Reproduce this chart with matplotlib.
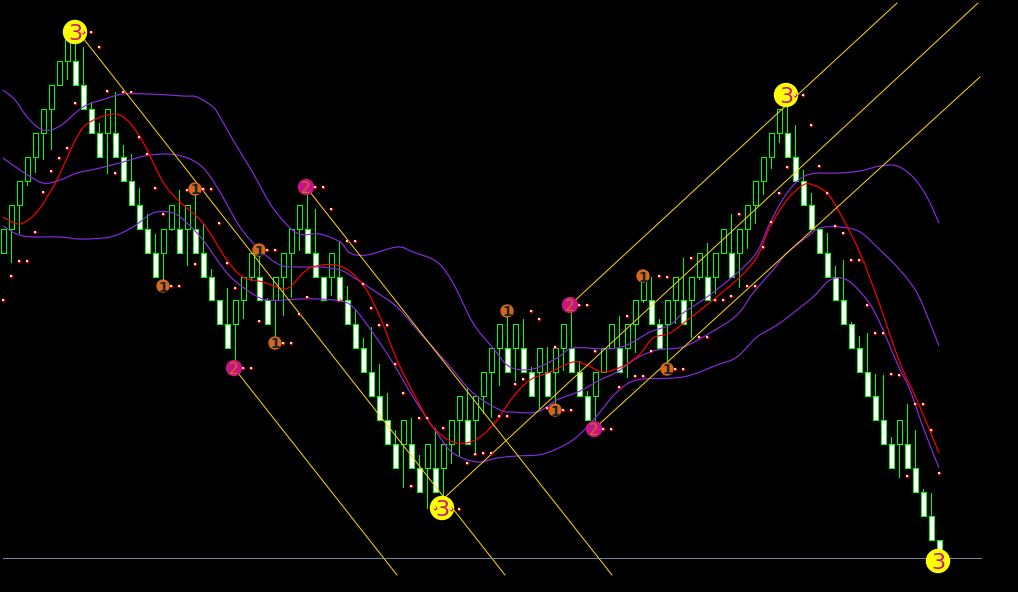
import numpy as np
import matplotlib
matplotlib.use("Agg")
import matplotlib.pyplot as plt
from matplotlib.patches import Rectangle, PathPatch
from matplotlib.path import Path

n = float('nan')
# brick number of each body top, counted down from the highest brick
body_level = [8,7,6,5,4,3,2,1,0,1,2,3,4,3,4,5,6,7,8,9,8,7,8,7,8,9,10,11,12,11,10,9,10,11,10,9,8,7,8,9,10,9,10,
              11,12,13,14,15,16,17,16,17,18,17,18,17,16,15,16,15,14,13,12,13,12,13,14,13,14,13,12,13,14,15,14,13,12,13,12,11,10,11,12,
              11,10,11,10,9,10,9,8,9,8,7,6,5,4,3,4,5,6,7,8,9,10,11,12,13,14,15,16,17,16,17,18,19,20,21]
# 1 = rising (hollow), 0 = falling (white)
body_up = [1,1,1,1,1,1,1,1,1,0,0,0,0,1,0,0,0,0,0,0,1,1,0,1,0,0,0,0,0,1,1,1,0,0,1,1,1,1,0,0,0,1,0,
           0,0,0,0,0,0,0,1,0,0,1,0,1,1,1,0,1,1,1,1,0,1,0,0,1,0,1,1,0,0,0,1,1,1,0,1,1,1,0,0,
           1,1,0,1,1,0,1,1,0,1,1,1,1,1,1,0,0,0,0,0,0,0,0,0,0,0,0,0,0,1,0,0,0,0,0]
wick_end = [n,262,233,185,172,159,149,n,79,40,47,102,123,173,92,145,154,188,214,234,287,230,190,265,187,224,269,n,288,362,318,280,250,298,340,315,297,250,187,209,n,295,241,
            286,309,338,327,364,393,430,487,418,455,508,428,497,463,455,387,453,413,417,385,317,380,319,367,408,347,407,370,313,361,391,422,n,n,316,377,352,302,277,319,
            363,323,258,337,279,243,293,n,214,287,248,223,194,168,142,107,125,170,193,n,233,266,260,322,336,333,374,375,437,477,404,430,489,493,n]

upper_x = [3,15,28,43,60,83,105,123,150,183,197,213,220,233,253,273,297,320,340,350,367,397,413,437,453,473,493,510,533,557,573,607,627,650,670,683,707,737,757,770,787,807,840,860,880,897,913,927,939]
upper_y = [90,100,118,130,126,107,99,94,94,96,97,107,117,140,173,208,233,234,242,253,255,247,252,262,283,323,348,367,369,358,348,349,345,332,325,313,297,273,252,223,193,175,173,171,166,166,177,197,223]
mid_x = [3,23,43,60,77,100,123,150,177,200,217,240,260,280,300,320,340,353,373,397,420,447,473,500,513,537,557,580,600,617,637,657,683,710,737,753,773,787,807,820,840,860,880,900,917,930,939]
mid_y = [158,172,183,180,173,168,162,155,155,165,187,227,250,265,267,267,270,277,290,307,333,363,393,410,412,412,400,391,380,372,358,350,347,333,315,293,270,253,237,228,227,232,250,270,293,323,346]
low_x = [3,23,60,80,110,133,153,173,187,203,227,247,267,300,320,340,353,373,393,413,437,453,477,497,517,543,570,587,600,617,637,683,717,737,757,780,813,830,847,867,880,897,910,923,939]
low_y = [226,236,237,239,237,227,213,213,223,240,273,290,300,299,299,301,307,333,363,397,433,453,462,458,456,454,442,427,412,392,380,377,365,357,337,323,297,280,280,300,323,363,390,427,468]
red_x = [3,20,37,50,57,77,90,113,127,143,163,180,203,227,243,263,280,290,310,340,363,380,397,417,433,453,473,493,513,530,550,573,587,603,623,640,653,670,690,713,740,757,770,787,803,813,827,840,860,878,900,917,939]
red_y = [217,224,212,192,180,137,122,114,120,142,182,202,223,260,277,282,288,287,268,266,285,317,360,400,427,442,441,425,397,380,372,362,365,372,366,354,338,333,318,300,277,257,227,200,185,185,193,213,253,300,363,400,453]

dot_x = [3,11,19,27,35,43,51,59,67,75,83,91,99,107,115,123,131,139,147,155,163,171,179,187,195,203,211,219,227,235,243,251,259,267,275,283,291,299,307,315,323,331,339,347,355,363,371,379,387,395,403,411,419,427,435,443,451,459,467,475,483,491,499,507,515,523,531,539,547,555,563,571,579,587,595,603,611,619,627,635,643,651,659,667,675,683,691,699,707,715,723,731,739,747,755,763,771,779,787,795,803,811,819,827,835,843,851,859,867,875,883,891,899,907,915,923,931,939]
dot_y = [300,276,261,261,232,192,171,158,148,103,32,32,47,91,173,92,92,137,154,188,214,286,286,190,264,189,189,223,263,288,368,368,321,250,250,343,343,314,297,187,187,209,300,241,241,284,308,325,325,364,393,486,418,418,508,428,509,509,463,454,453,453,416,416,384,379,311,319,408,347,410,410,305,305,351,429,429,387,316,376,376,351,276,277,369,369,258,337,337,300,300,296,214,286,286,247,222,193,167,95,95,125,166,193,226,233,260,260,305,333,333,374,375,476,404,404,430,473]

yellow_marks = [(75, 32), (786, 95), (442, 508), (938, 561)]
magenta_marks = [(234, 368), (306, 187), (570, 305), (594, 429)]
orange_marks = [(195, 189), (259, 250), (163, 286), (275, 343), (507, 311), (555, 410), (643, 276), (667, 369)]

# trend lines, start and end
down_lines = [((234, 368), (397, 575)), ((83, 38), (505, 575)), ((306, 187), (612, 575))]
up_lines = [((442, 500), (978, 3)), ((570, 305), (897, 3)), ((594, 429), (980, 77))]
support_y = 558

BRICK_TOP = 37.3
BRICK = 23.92
FIRST_X = 3.5
STEP_X = 8


def smooth_curve(ax, xs, ys, color):
    # bezier path through the read points, so the bands do not look polygonal
    pts = np.column_stack([xs, ys]).astype(float)
    verts = [pts[0]]
    codes = [Path.MOVETO]
    for i in range(len(pts) - 1):
        p0 = pts[max(i - 1, 0)]
        p1 = pts[i]
        p2 = pts[i + 1]
        p3 = pts[min(i + 2, len(pts) - 1)]
        verts += [p1 + (p2 - p0) / 6, p2 - (p3 - p1) / 6, p2]
        codes += [Path.CURVE4] * 3
    ax.add_patch(PathPatch(Path(verts, codes), fc='none', ec=color, lw=0.85, zorder=4))


fig = plt.figure(figsize=(10.18, 5.92), dpi=100, facecolor='black')
ax = fig.add_axes([0, 0, 1, 1])
ax.set_facecolor('black')
ax.set_xlim(0, 1018)
ax.set_ylim(592, 0)
ax.axis('off')

LW = 0.72
green = '#00ff00'
for i, (lev, up, w) in enumerate(zip(body_level, body_up, wick_end)):
    x = FIRST_X + STEP_X * i
    top = BRICK_TOP + BRICK * lev
    bottom = top + BRICK
    if w == w:
        ax.plot([x, x], [bottom if up else top, w], color=green, lw=LW, antialiased=False, zorder=2)
    ax.add_patch(Rectangle((x - 2.5, top), 5, BRICK, fc='black' if up else 'white', ec=green, lw=LW, antialiased=False, zorder=3))

for xs, ys in [(upper_x, upper_y), (mid_x, mid_y), (low_x, low_y)]:
    smooth_curve(ax, xs, ys, '#8a2be2')
smooth_curve(ax, red_x, red_y, '#ff0000')

for a, b in down_lines + up_lines:
    ax.plot([a[0], b[0]], [a[1], b[1]], color='#ffd700', lw=LW, zorder=5)
ax.plot([3, 981], [support_y, support_y], color='#778899', lw=LW, antialiased=False, zorder=5)

for xs, col, rad, fs, tc, lab, wt in [(yellow_marks, '#ffff00', 11.5, 16, '#c71585', '3', 'normal'),
                                      (magenta_marks, '#c71585', 7.5, 11, '#d2691e', '2', 'normal'),
                                      (orange_marks, '#d2691e', 6, 10, '#222222', '1', 'bold')]:
    for x, y in xs:
        ax.add_patch(plt.Circle((x, y), rad, color=col, zorder=6))
        ax.text(x, y, lab, color=tc, fontsize=fs, fontweight=wt, ha='center', va='center_baseline', zorder=7)

ax.scatter(dot_x, dot_y, s=5, marker='D', color='#ff0000', linewidths=0, zorder=8)
ax.scatter(dot_x, dot_y, s=1, marker='s', color='#ffdddd', linewidths=0, zorder=9)

fig.savefig('out.png', dpi=100, facecolor='black')
